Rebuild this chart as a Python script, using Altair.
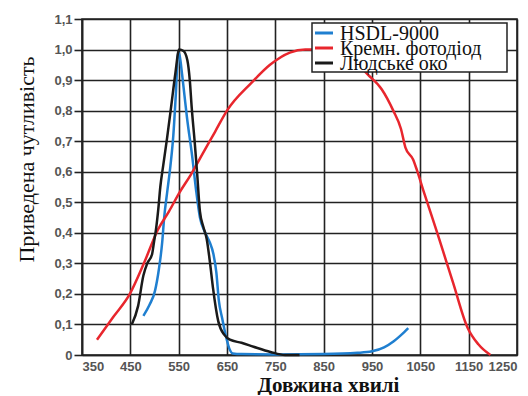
import altair as alt
import pandas as pd

series_names = ["HSDL-9000", "Кремн. фотодіод", "Людське око"]
series_colors = ["#1f7fd0", "#e8262d", "#1a1a1a"]

blue_x = [477, 490, 501, 509, 516, 520, 526, 533, 539, 544, 549, 552, 557, 562, 567, 578, 586, 594, 605, 614, 622, 628, 633, 640, 648, 655, 662, 680, 750, 850, 920, 950, 975, 995, 1010, 1025]
blue_y = [0.128, 0.165, 0.21, 0.28, 0.37, 0.45, 0.53, 0.62, 0.72, 0.85, 0.99, 0.98, 0.92, 0.85, 0.78, 0.65, 0.54, 0.45, 0.40, 0.37, 0.33, 0.27, 0.18, 0.12, 0.06, 0.02, 0.005, 0.003, 0.002, 0.003, 0.007, 0.012, 0.025, 0.045, 0.065, 0.088]

red_x = [381, 415, 449, 478, 507, 530, 551, 575, 600, 625, 650, 700, 739, 780, 812, 850, 900, 942, 970, 994, 1010, 1019, 1035, 1043, 1056, 1085, 1118, 1147, 1170, 1195]
red_y = [0.05, 0.125, 0.20, 0.30, 0.41, 0.47, 0.53, 0.59, 0.66, 0.73, 0.80, 0.89, 0.95, 0.99, 1.0, 1.0, 0.98, 0.917, 0.87, 0.80, 0.74, 0.68, 0.64, 0.605, 0.54, 0.40, 0.235, 0.092, 0.035, 0.0]

black_x = [453, 466, 477, 485, 495, 499, 503, 508, 512, 518, 526, 535, 543, 551, 560, 568, 573, 577, 583, 588, 594, 601, 608, 615, 621, 632, 645, 656, 680, 705, 740, 770, 800]
black_y = [0.10, 0.16, 0.26, 0.30, 0.33, 0.37, 0.41, 0.48, 0.55, 0.62, 0.71, 0.82, 0.92, 1.0, 0.995, 0.965, 0.90, 0.81, 0.70, 0.60, 0.47, 0.42, 0.38, 0.30, 0.22, 0.11, 0.065, 0.05, 0.04, 0.027, 0.01, 0.0, 0.0]

x_ticks = [350, 450, 550, 650, 750, 850, 950, 1050, 1150, 1250]
y_ticks = [0, 0.1, 0.2, 0.3, 0.4, 0.5, 0.6, 0.7, 0.8, 0.9, 1.0, 1.1]

frames = []
for name, xs, ys, order in [(series_names[0], blue_x, blue_y, 0),
                            (series_names[1], red_x, red_y, 1),
                            (series_names[2], black_x, black_y, 2)]:
    frames.append(pd.DataFrame({"x": xs, "y": ys, "series": name, "ord": order}))
df = pd.concat(frames, ignore_index=True)

legend_df = pd.DataFrame({"series": series_names, "row": list(range(len(series_names)))})

SERIF = "Liberation Serif"
SANS = "Liberation Sans"
GRID = "#222222"

color_scale = alt.Scale(domain=series_names, range=series_colors)
row_y = alt.Y("row:Q", scale=alt.Scale(domain=[0, 2], range=[14, 44]), axis=None)

lines = alt.Chart(df).mark_line(strokeWidth=2.5, interpolate="monotone").encode(
    x=alt.X("x:Q", scale=alt.Scale(domain=[350, 1250], nice=False),
            axis=alt.Axis(values=x_ticks, format="d", labelOverlap=False, title="Довжина хвилі",
                          grid=True, gridColor=GRID, gridWidth=1.6, gridOpacity=1,
                          domainColor=GRID, domainWidth=1.6,
                          titleFont=SERIF, titleFontSize=21, titleFontWeight="bold",
                          titleColor="#111", titleX=246, titleY=36, titleBaseline="alphabetic",
                          labelFont=SANS, labelFontSize=13, labelFontWeight="bold",
                          labelColor="#555", labelPadding=5, tickSize=0)),
    y=alt.Y("y:Q", scale=alt.Scale(domain=[0, 1.1], nice=False),
            axis=alt.Axis(values=y_ticks, title="Приведена чутливість",
                          labelExpr="datum.value == 0 ? '0' : replace(format(datum.value, '.1f'), '.', ',')",
                          grid=True, gridColor=GRID, gridWidth=1.6, gridOpacity=1,
                          domainColor=GRID, domainWidth=1.6,
                          titleFont=SERIF, titleFontSize=22, titleFontWeight="normal",
                          titleColor="#111", titleX=-56, titleY=140, titleAngle=-90, titleBaseline="middle",
                          labelFont=SANS, labelFontSize=13, labelFontWeight="bold",
                          labelColor="#555", tickSize=8, tickColor=GRID, tickWidth=1.6, labelPadding=2)),
    color=alt.Color("series:N", scale=color_scale, legend=None),
    order="ord:Q",
    detail="series:N",
)

legend_box = alt.Chart(legend_df).transform_filter("datum.row == 0").mark_rect(
    fill="white", stroke=GRID, strokeWidth=1.5
).encode(x=alt.value(230), x2=alt.value(425), y=alt.value(4), y2=alt.value(53))

legend_sym = alt.Chart(legend_df).mark_rule(strokeWidth=3).encode(
    x=alt.value(233), x2=alt.value(251), y=row_y,
    color=alt.Color("series:N", scale=color_scale, legend=None),
)

legend_txt = alt.Chart(legend_df).mark_text(
    align="left", baseline="middle", font=SERIF, fontSize=20, color="#111", dy=1
).encode(x=alt.value(258), y=row_y, text="series:N")

chart = alt.layer(lines, legend_box, legend_sym, legend_txt).resolve_scale(
    y="independent"
).properties(
    width=435, height=336,
    autosize=alt.AutoSizeParams(type="none"),
    padding={"left": 74, "top": 11, "right": 3, "bottom": 40},
).configure(background="white").configure_view(stroke=GRID, strokeWidth=1.6)

chart.save("out.html", embed_options={"renderer": "svg", "actions": False})
